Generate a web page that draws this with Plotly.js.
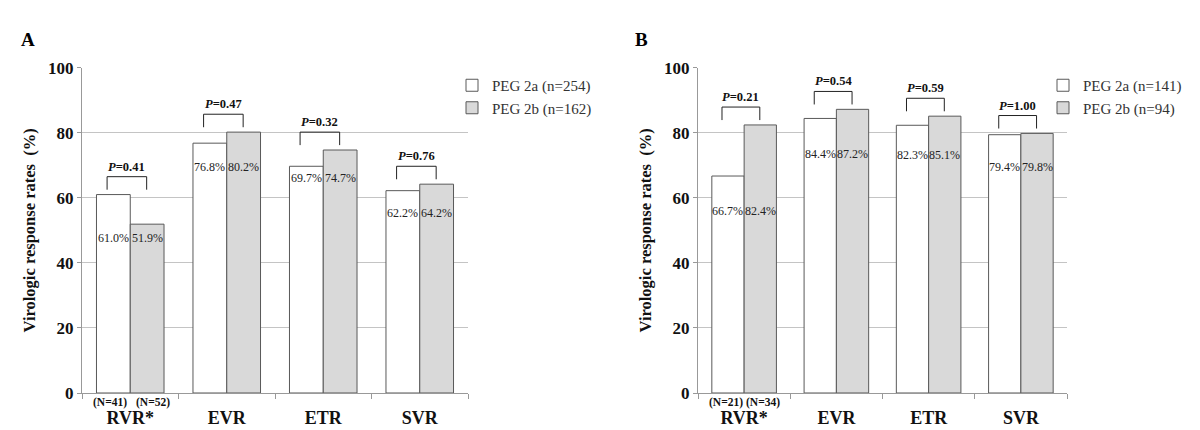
<!DOCTYPE html>
<html>
<head>
<meta charset="utf-8">
<script src="https://cdn.plot.ly/plotly-3.0.1.min.js"></script>
<style>html,body{margin:0;padding:0;background:#fff;}#chart{width:1200px;height:430px;}</style>
</head>
<body>
<div id="chart"></div>
<script>
// ---- data ----
const categories = ['RVR*', 'EVR', 'ETR', 'SVR'];
const peg2aA = [61.0, 76.8, 69.7, 62.2];
const peg2bA = [51.9, 80.2, 74.7, 64.2];
const peg2aB = [66.7, 84.4, 82.3, 79.4];
const peg2bB = [82.4, 87.2, 85.1, 79.8];
const pValuesA = ['0.41', '0.47', '0.32', '0.76'];
const pValuesB = ['0.21', '0.54', '0.59', '1.00'];
const rvrNA = [41, 52];
const rvrNB = [21, 34];
const namesA = ['PEG 2a (n=254)', 'PEG 2b (n=162)'];
const namesB = ['PEG 2a (n=141)', 'PEG 2b (n=94)'];
const yTicks = [0, 20, 40, 60, 80, 100];

// ---- layout constants ----
const SERIF = 'Liberation Serif, Times New Roman, serif';
const labelDropA = [14, 24, 12, 22];   // px below lower bar top
const labelDropB = [35, 36, 30, 32];
const nShiftA = [-3, 6];
const nShiftB = [-2, 3];
const W = 1200, H = 430;
const yDom = [(H - 393) / H, (H - 67.7) / H];
const xDomA = [82 / W, 468 / W];
const xDomB = [698 / W, 1067 / W];
const BAR_HALF = 0.175;

const whiteFill = '#ffffff', grayFill = '#d9d9d9', barLine = '#595959';

function barTrace(vals, name, fill, xa, ya, legend) {
  return {
    type: 'bar', x: categories, y: vals, name: name,
    xaxis: xa, yaxis: ya, legend: legend,
    marker: {color: fill, line: {color: barLine, width: 1}},
    hoverinfo: 'skip'
  };
}

const data = [
  barTrace(peg2aA, namesA[0], whiteFill, 'x', 'y', 'legend'),
  barTrace(peg2bA, namesA[1], grayFill, 'x', 'y', 'legend'),
  barTrace(peg2aB, namesB[0], whiteFill, 'x2', 'y2', 'legend2'),
  barTrace(peg2bB, namesB[1], grayFill, 'x2', 'y2', 'legend2')
];

const annotations = [];
const shapes = [];

function panelDecor(a, b, pvals, nvals, drops, nshift, xr, yr) {
  categories.forEach((c, i) => {
    // value labels
    const base = Math.min(a[i], b[i]);
    [[a[i], -BAR_HALF], [b[i], BAR_HALF]].forEach(([v, off]) => {
      annotations.push({
        xref: xr, yref: yr, x: i + off, y: base, yshift: -drops[i],
        text: v.toFixed(1) + '%', showarrow: false, xanchor: 'center', yanchor: 'middle',
        font: {family: SERIF, size: 12, color: '#222'}
      });
    });
    // bracket
    const top = Math.max(a[i], b[i]) + 5.5;
    const x0 = i - 0.24, x1 = i + 0.17;
    const ln = {color: '#222', width: 1};
    shapes.push({type: 'line', xref: xr, yref: yr, x0: x0, x1: x0, y0: top - 4, y1: top, line: ln});
    shapes.push({type: 'line', xref: xr, yref: yr, x0: x0, x1: x1, y0: top, y1: top, line: ln});
    shapes.push({type: 'line', xref: xr, yref: yr, x0: x1, x1: x1, y0: top - 4, y1: top, line: ln});
    annotations.push({
      xref: xr, yref: yr, x: (x0 + x1) / 2, y: top, yshift: 1,
      text: '<b><i>P</i>=' + pvals[i] + '</b>', showarrow: false,
      xanchor: 'center', yanchor: 'bottom',
      font: {family: SERIF, size: 12.5, color: '#111'}
    });
  });
  // N labels under RVR
  [[nvals[0], -BAR_HALF, nshift[0]], [nvals[1], BAR_HALF, nshift[1]]].forEach(([n, off, sh]) => {
    annotations.push({
      xref: xr, yref: yr, x: off, y: 0, yshift: -1, xshift: sh,
      text: '<b>(N=' + n + ')</b>', showarrow: false, xanchor: 'center', yanchor: 'top',
      font: {family: SERIF, size: 11.5, color: '#111'}
    });
  });
}

panelDecor(peg2aA, peg2bA, pValuesA, rvrNA, labelDropA, nShiftA, 'x', 'y');
panelDecor(peg2aB, peg2bB, pValuesB, rvrNB, labelDropB, nShiftB, 'x2', 'y2');

// panel letters
annotations.push({xref: 'paper', yref: 'paper', x: 28 / W, y: 1 - 39.5 / H, text: '<b>A</b>',
  showarrow: false, xanchor: 'center', yanchor: 'middle', font: {family: SERIF, size: 19, color: '#000'}});
annotations.push({xref: 'paper', yref: 'paper', x: 641 / W, y: 1 - 39.5 / H, text: '<b>B</b>',
  showarrow: false, xanchor: 'center', yanchor: 'middle', font: {family: SERIF, size: 19, color: '#000'}});

function xAxis(dom, anchor) {
  return {
    domain: dom, anchor: anchor, type: 'category',
    showline: true, linecolor: '#999', linewidth: 1,
    ticks: 'outside', tickson: 'boundaries', ticklen: 5, tickcolor: '#999',
    ticklabelstandoff: 8,
    tickfont: {family: SERIF, size: 18, color: '#111', weight: 'bold'},
    showgrid: false, zeroline: false, fixedrange: true
  };
}
function yAxis(dom, anchor) {
  return {
    domain: dom, anchor: anchor, range: [0, 100], tickvals: yTicks,
    showline: true, linecolor: '#999', linewidth: 1,
    ticks: 'outside', ticklen: 4, tickcolor: '#999',
    showgrid: true, gridcolor: '#c4c4c4', gridwidth: 1, zeroline: false,
    tickfont: {family: SERIF, size: 17, color: '#111', weight: 'bold'},
    title: {text: '<b>Virologic response rates  (%)</b>', standoff: 8,
      font: {family: SERIF, size: 16.5, color: '#111'}},
    fixedrange: true
  };
}

const legendBase = {
  yanchor: 'top', xanchor: 'left', bgcolor: 'rgba(0,0,0,0)', borderwidth: 0,
  font: {family: SERIF, size: 15, color: '#333'}, itemclick: false, itemdoubleclick: false,
  tracegroupgap: 0
};

const layout = {
  width: W, height: H,
  margin: {l: 0, r: 0, t: 0, b: 0},
  paper_bgcolor: '#fff', plot_bgcolor: 'rgba(0,0,0,0)',
  barmode: 'group', bargap: 0.3, bargroupgap: 0,
  showlegend: true,
  xaxis: xAxis(xDomA, 'y'),
  yaxis: yAxis(yDom, 'x'),
  xaxis2: xAxis(xDomB, 'y2'),
  yaxis2: yAxis(yDom, 'x2'),
  legend: Object.assign({}, legendBase, {x: 452 / W, y: 1 - 69 / H}),
  legend2: Object.assign({}, legendBase, {x: 1043 / W, y: 1 - 69 / H}),
  annotations: annotations,
  shapes: shapes
};

Plotly.newPlot('chart', data, layout, {staticPlot: true, displayModeBar: false});
</script>
</body>
</html>
